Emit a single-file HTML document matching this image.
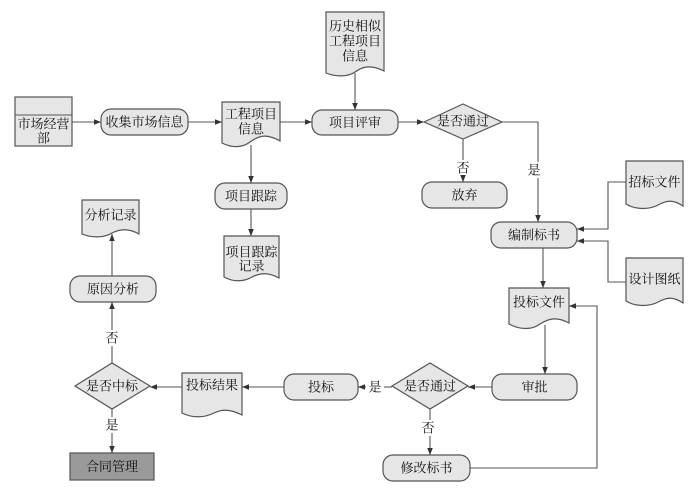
<!DOCTYPE html>
<html><head><meta charset="utf-8"><style>
html,body{margin:0;padding:0;background:#fff}
svg text{font-family:"Liberation Serif","Noto Serif CJK SC",serif;font-size:13px;fill:#111;text-anchor:middle;dominant-baseline:central}
.s{fill:#e6e6e6;stroke:#555;stroke-width:1.2}
.l{fill:none;stroke:#555;stroke-width:1.1;marker-end:url(#a)}
.n{fill:none;stroke:#555;stroke-width:1.1}
</style></head><body>
<svg width="696" height="495" viewBox="0 0 696 495" xmlns="http://www.w3.org/2000/svg">
<defs><marker id="a" viewBox="0 0 10 10" refX="10" refY="5" markerWidth="7" markerHeight="7" orient="auto" markerUnits="userSpaceOnUse"><path d="M0,1 L10,5 L0,9 Z" fill="#333"/></marker></defs>

<!-- 市场经营部 -->
<rect class="s" x="15" y="97" width="57" height="49"/>
<line class="n" x1="15" y1="115" x2="72" y2="115"/>
<text x="43.5" y="124">市场经营</text><text x="43.5" y="138">部</text>

<rect class="s" x="101" y="109" width="87" height="26" rx="10"/><text x="144.5" y="122">收集市场信息</text>

<path class="s" d="M222,102 H280 V141 C266,133 258,136 250,142 C242,148 232,148 222,143 Z"/>
<text x="251" y="114">工程项目</text><text x="251" y="129">信息</text>

<rect class="s" x="312" y="110" width="86" height="25" rx="10"/><text x="355" y="122.5">项目评审</text>

<path class="s" d="M326,12 H384 V71 C370,64 362,67 355,72 C348,77 336,77 326,73 Z"/>
<text x="355" y="26">历史相似</text><text x="355" y="41">工程项目</text><text x="355" y="56">信息</text>

<polygon class="s" points="424,122 463,104 502,122 463,139"/><text x="463" y="121">是否通过</text>
<rect class="s" x="422" y="182" width="85" height="26" rx="10"/><text x="464.5" y="195">放弃</text>
<text x="463" y="168">否</text><text x="534" y="170">是</text>

<rect class="s" x="491" y="222" width="86" height="26" rx="10"/><text x="534" y="235">编制标书</text>

<path class="s" d="M626,161 H683 V206 C674,200 668,200 660,204 C650,210 636,210 626,204 Z"/>
<text x="654.5" y="182">招标文件</text>
<path class="s" d="M626,258 H683 V303 C674,297 668,297 660,301 C650,307 636,307 626,301 Z"/>
<text x="654.5" y="279">设计图纸</text>

<path class="s" d="M509,288 H569 V323 C556,316 548,319 540,324 C532,330 520,330 509,324 Z"/>
<text x="539" y="302">投标文件</text>

<rect class="s" x="492" y="374" width="85" height="26" rx="10"/><text x="534.5" y="387">审批</text>
<polygon class="s" points="392,386 430,363 468,386 430,409"/><text x="430" y="386">是否通过</text>
<text x="375" y="387">是</text><text x="428" y="428">否</text>
<rect class="s" x="284" y="374" width="74" height="26" rx="10"/><text x="321" y="387">投标</text>
<path class="s" d="M182,373 H242 V415 C230,409 222,409 214,413 C204,418 192,418 182,413 Z"/>
<text x="212" y="385">投标结果</text>
<polygon class="s" points="75,386 112,363 150,386 112,409"/><text x="112" y="386">是否中标</text>
<text x="112" y="338">否</text><text x="112" y="425">是</text>
<rect class="s" x="70" y="276" width="86" height="26" rx="10"/><text x="113" y="289">原因分析</text>
<path class="s" d="M82,200 H139 V234 C128,228 120,229 112,233 C104,238 92,238 82,234 Z"/>
<text x="110.5" y="215">分析记录</text>
<rect x="70" y="453" width="84" height="27" fill="#9a9a9a" stroke="#555" stroke-width="1.2"/><text x="112" y="466.5">合同管理</text>
<rect class="s" x="383" y="455" width="87" height="26" rx="10"/><text x="426.5" y="468">修改标书</text>

<rect class="s" x="215" y="183" width="72" height="26" rx="10"/><text x="251" y="196">项目跟踪</text>
<path class="s" d="M224,236 H279 V278 C268,272 260,273 252,277 C244,282 233,282 224,277 Z"/>
<text x="251.5" y="252">项目跟踪</text><text x="251.5" y="266">记录</text>

<!-- connectors -->
<line class="l" x1="72" y1="122" x2="101" y2="122"/>
<line class="l" x1="188" y1="122" x2="222" y2="122"/>
<line class="l" x1="280" y1="122" x2="312" y2="122"/>
<line class="l" x1="355" y1="73" x2="355" y2="110"/>
<line class="l" x1="398" y1="122" x2="424" y2="122"/>
<line class="n" x1="463" y1="139" x2="463" y2="160"/>
<line class="l" x1="463" y1="176" x2="463" y2="182"/>
<polyline class="n" points="502,122 538,122 538,162"/>
<line class="l" x1="538" y1="178" x2="538" y2="222"/>
<polyline class="l" points="626,182 608,182 608,229 577,229"/>
<polyline class="l" points="626,282 608,282 608,241 577,241"/>
<line class="l" x1="543" y1="248" x2="543" y2="288"/>
<line class="l" x1="545" y1="325" x2="545" y2="374"/>
<line class="l" x1="492" y1="387" x2="468" y2="387"/>
<line class="l" x1="366" y1="387" x2="358" y2="387"/>
<line class="n" x1="392" y1="387" x2="384" y2="387"/>
<line class="l" x1="284" y1="387" x2="242" y2="387"/>
<line class="l" x1="182" y1="387" x2="150" y2="387"/>
<line class="n" x1="112" y1="363" x2="112" y2="346"/>
<line class="l" x1="112" y1="330" x2="112" y2="302"/>
<line class="l" x1="112" y1="276" x2="112" y2="234"/>
<line class="n" x1="112" y1="409" x2="112" y2="417"/>
<line class="l" x1="112" y1="433" x2="112" y2="453"/>
<line class="n" x1="430" y1="409" x2="430" y2="420"/>
<line class="l" x1="430" y1="436" x2="430" y2="455"/>
<polyline class="l" points="470,468 597,468 597,306 569,306"/>
<line class="l" x1="251" y1="145" x2="251" y2="183"/>
<line class="l" x1="251" y1="209" x2="251" y2="236"/>
</svg>
</body></html>
